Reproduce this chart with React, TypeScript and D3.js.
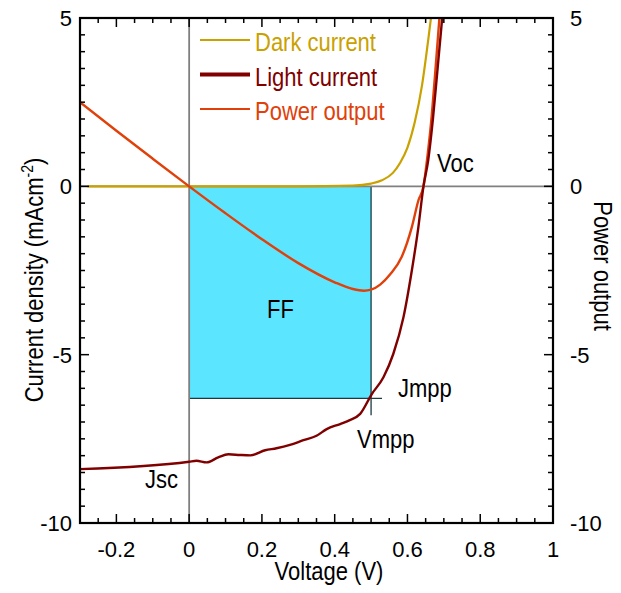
import React from "react";
import * as d3 from "d3";

// voltage (V) / current density (mA cm-2)
const darkV = [-0.28, 0, 0.3, 0.45, 0.5, 0.53, 0.56, 0.58, 0.6, 0.62, 0.64, 0.66, 0.668];
const darkJ = [0, 0, 0, 0.02, 0.08, 0.18, 0.4, 0.7, 1.15, 1.9, 3.0, 4.6, 5.3];

const lightV = [-0.3, 0, 0.02, 0.048, 0.08, 0.108, 0.14, 0.168, 0.209, 0.24, 0.277, 0.314, 0.35, 0.378, 0.415, 0.44, 0.47, 0.502, 0.534, 0.561, 0.589, 0.612, 0.63, 0.644, 0.657, 0.67, 0.682, 0.698];
const lightJ = [-8.4, -8.18, -8.15, -8.2, -8.05, -7.96, -7.98, -7.99, -7.84, -7.78, -7.68, -7.54, -7.41, -7.21, -7.06, -6.95, -6.76, -6.17, -5.67, -4.98, -3.89, -2.5, -1.21, 0, 0.77, 2.0, 3.4, 5.3];

const powerV = [-0.3, -0.2, -0.1, 0, 0.1, 0.2, 0.3, 0.4, 0.45, 0.48, 0.5, 0.525, 0.552, 0.584, 0.612, 0.63, 0.644, 0.655, 0.665, 0.675, 0.69];
const powerP = [2.5, 1.65, 0.82, 0, -0.8, -1.57, -2.28, -2.85, -3.05, -3.1, -3.07, -2.92, -2.62, -2.1, -1.21, -0.42, 0, 0.9, 1.9, 3.2, 5.3];

const xTicks = [-0.2, 0, 0.2, 0.4, 0.6, 0.8, 1];
const yTicks = [5, 0, -5, -10];

const vmpp = 0.5;
const jmpp = -6.3;

const FONT = "'Liberation Sans', Arial, Helvetica, sans-serif";

const W = 621, H = 593;
const L = 80, R = 553, T = 18, B = 523;

// slightly condensed label, like the narrow font of the original
const Label = ({ x, y, children, anchor = "start", fill = "black", rotate = 0 }: any) => (
  <text
    transform={`translate(${x},${y}) rotate(${rotate}) scale(0.88,1)`}
    textAnchor={anchor}
    fontSize={25}
    fill={fill}
  >
    {children}
  </text>
);

export default function App() {
  const x = d3.scaleLinear().domain([-0.3, 1]).range([L, R]);
  const y = d3.scaleLinear().domain([-10, 5]).range([B, T]);

  const smooth = d3.line<[number, number]>().x(d => x(d[0])).y(d => y(d[1])).curve(d3.curveMonotoneX);
  const dark = smooth(darkV.map((v, i) => [v, darkJ[i]]) as [number, number][]);
  const light = smooth(lightV.map((v, i) => [v, lightJ[i]]) as [number, number][]);
  const power = smooth(powerV.map((v, i) => [v, powerP[i]]) as [number, number][]);

  const xMinor = d3.range(-0.3, 1.0001, 0.05);
  const yMinor = d3.range(-10, 5.0001, 0.5);
  const isMajor = (v: number, arr: number[]) => arr.some(a => Math.abs(a - v) < 1e-6);

  const legend = [
    { name: "Dark current", color: "#c9a100", w: 2 },
    { name: "Light current", color: "#800000", w: 4 },
    { name: "Power output", color: "#e0400a", w: 2 },
  ];

  return (
    <svg width={W} height={H} style={{ position: "absolute", left: 0, top: 0 }} fontFamily={FONT}>
      <defs>
        <clipPath id="plot">
          <rect x={L} y={T} width={R - L} height={B - T} />
        </clipPath>
      </defs>
      <rect width={W} height={H} fill="white" />

      {/* FF rectangle */}
      <rect x={x(0)} y={y(0)} width={x(vmpp) - x(0)} height={y(jmpp) - y(0)} fill="#5ce5ff" />
      <line x1={x(vmpp)} x2={x(vmpp)} y1={y(0)} y2={y(-6.8)} stroke="#1a3a40" strokeWidth={1.3} />
      <line x1={x(0)} x2={x(0.53)} y1={y(jmpp)} y2={y(jmpp)} stroke="#1a3a40" strokeWidth={1.3} />

      {/* zero lines */}
      <line x1={x(0)} x2={x(0)} y1={T} y2={B} stroke="#808080" strokeWidth={1.8} />
      <line x1={L} x2={R} y1={y(0)} y2={y(0)} stroke="#808080" strokeWidth={1.8} />

      <g clipPath="url(#plot)" fill="none" strokeLinejoin="round">
        <path d={dark || ""} stroke="#c9a100" strokeWidth={2.2} />
        <path d={power || ""} stroke="#e0400a" strokeWidth={2.4} />
        <path d={light || ""} stroke="#800000" strokeWidth={2.4} />
      </g>

      {/* frame */}
      <rect x={L} y={T} width={R - L} height={B - T} fill="none" stroke="black" strokeWidth={2.2} />

      {xMinor.map((v, i) => {
        const len = isMajor(v, xTicks) ? 9 : 5;
        return (
          <g key={"xt" + i} stroke="black" strokeWidth={1.5}>
            <line x1={x(v)} x2={x(v)} y1={B} y2={B - len} />
            <line x1={x(v)} x2={x(v)} y1={T} y2={T + len} />
          </g>
        );
      })}
      {yMinor.map((v, i) => {
        const len = isMajor(v, yTicks) ? 9 : 5;
        return (
          <g key={"yt" + i} stroke="black" strokeWidth={1.5}>
            <line x1={L} x2={L + len} y1={y(v)} y2={y(v)} />
            <line x1={R} x2={R - len} y1={y(v)} y2={y(v)} />
          </g>
        );
      })}

      <g fontSize={22} fill="black">
        {xTicks.map(v => (
          <text key={"xl" + v} x={x(v)} y={557} textAnchor="middle">{String(v)}</text>
        ))}
        {yTicks.map(v => (
          <text key={"yl" + v} x={L - 8} y={y(v) + 8} textAnchor="end">{String(v)}</text>
        ))}
        {yTicks.map(v => (
          <text key={"yr" + v} x={R + 17} y={y(v) + 8} textAnchor="start">{String(v)}</text>
        ))}
      </g>

      <Label x={329} y={580} anchor="middle">Voltage (V)</Label>
      <Label x={43} y={280} anchor="middle" rotate={-90}>
        Current density (mAcm<tspan dy={-10} fontSize={16}>-2</tspan><tspan dy={10}>)</tspan>
      </Label>
      <Label x={594} y={266} anchor="middle" rotate={90}>Power output</Label>

      <Label x={267} y={318}>FF</Label>
      <Label x={437} y={172}>Voc</Label>
      <Label x={398} y={397}>Jmpp</Label>
      <Label x={357} y={448}>Vmpp</Label>
      <Label x={145} y={488}>Jsc</Label>

      {/* legend */}
      {legend.map((d, i) => (
        <g key={d.name} transform={`translate(200,${40 + i * 34.5})`}>
          <line x1={0} x2={50} y1={0} y2={0} stroke={d.color} strokeWidth={d.w} />
          <Label x={55} y={11} fill={d.color}>{d.name}</Label>
        </g>
      ))}
    </svg>
  );
}
